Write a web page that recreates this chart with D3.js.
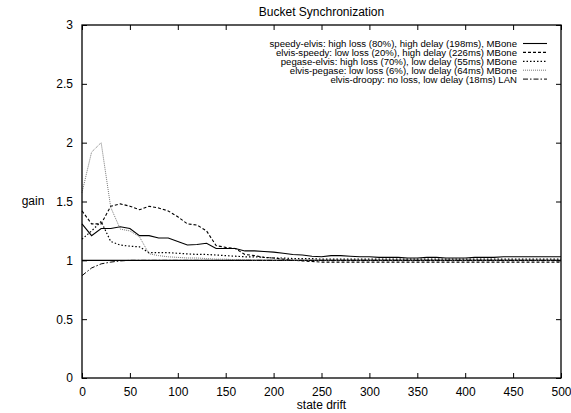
<!DOCTYPE html>
<html><head><meta charset="utf-8">
<script src="https://cdn.jsdelivr.net/npm/d3@7"></script>
<style>body{margin:0;background:#fff}svg{display:block}text{font-family:"Liberation Sans",Arial,sans-serif;fill:#000}</style>
</head><body>
<script>
const drift = d3.range(0, 501, 10);
const speedyElvis = [1.31,1.21,1.27,1.27,1.285,1.27,1.21,1.21,1.19,1.19,1.16,1.13,1.135,1.145,1.10,1.10,1.10,1.08,1.08,1.075,1.07,1.06,1.05,1.045,1.035,1.03,1.04,1.04,1.035,1.03,1.03,1.025,1.025,1.025,1.02,1.02,1.025,1.025,1.02,1.02,1.02,1.025,1.025,1.025,1.03,1.03,1.03,1.03,1.03,1.03,1.03];
const elvisSpeedy = [1.42,1.31,1.31,1.46,1.48,1.46,1.43,1.46,1.445,1.42,1.37,1.31,1.30,1.25,1.125,1.11,1.10,1.05,1.04,1.025,1.02,1.01,1.0,0.995,0.99,0.985,0.985,0.985,0.985,0.985,0.985,0.985,0.985,0.985,0.985,0.985,0.985,0.985,0.985,0.985,0.985,0.985,0.985,0.985,0.985,0.985,0.985,0.985,0.985,0.985,0.985];
const pegaseElvis = [1.18,1.25,1.33,1.16,1.13,1.12,1.115,1.065,1.065,1.065,1.06,1.055,1.05,1.05,1.045,1.04,1.035,1.03,1.03,1.025,1.02,1.02,1.015,1.015,1.015,1.01,1.01,1.01,1.01,1.01,1.01,1.01,1.01,1.01,1.01,1.01,1.01,1.01,1.01,1.01,1.01,1.01,1.01,1.01,1.01,1.01,1.01,1.01,1.01,1.01,1.01];
const elvisPegase = [1.575,1.92,2.0,1.45,1.265,1.25,1.20,1.055,1.04,1.03,1.025,1.02,1.02,1.015,1.01,1.01,1.005,1.005,1.0,1.0,1.0,1.0,1.0,1.0,1.0,1.0,1.0,1.0,1.0,1.0,1.0,1.0,1.0,1.0,1.0,1.0,1.0,1.0,1.0,1.0,1.0,1.0,1.0,1.0,1.0,1.0,1.0,1.0,1.0,1.0,1.0];
const elvisDroopy = [0.87,0.935,0.97,0.985,0.995,1.0,1.0,1.0,1.0,1.0,1.0,1.0,1.0,1.0,1.0,1.0,1.0,1.0,1.0,1.0,1.0,1.0,1.0,1.0,1.0,1.0,1.0,1.0,1.0,1.0,1.0,1.0,1.0,1.0,1.0,1.0,1.0,1.0,1.0,1.0,1.0,1.0,1.0,1.0,1.0,1.0,1.0,1.0,1.0,1.0,1.0];
const seriesNames = ["speedy-elvis: high loss (80%), high delay (198ms), MBone","elvis-speedy: low loss (20%), high delay (226ms) MBone","pegase-elvis: high loss (70%), low delay (55ms) MBone","elvis-pegase: low loss (6%), low delay (64ms) MBone","elvis-droopy: no loss, low delay (18ms) LAN"];
const xTicks = [0,50,100,150,200,250,300,350,400,450,500];
const yTicks = [0,0.5,1,1.5,2,2.5,3];
const yTickLabels = ["0","0.5","1","1.5","2","2.5","3"];

const series = [speedyElvis, elvisSpeedy, pegaseElvis, elvisPegase, elvisDroopy];
const styles = [
  {dash:null, color:"#000", w:1.1},
  {dash:"3,2", color:"#000", w:1.1},
  {dash:"1.5,2", color:"#000", w:1.2},
  {dash:"1,1", color:"#777", w:1},
  {dash:"5,2,1.5,2", color:"#000", w:1}
];

const W=571,H=413, L=82,R=561,T=25,B=378;
const svg=d3.select("body").append("svg").attr("width",W).attr("height",H);
const x=d3.scaleLinear().domain([0,500]).range([L,R]);
const y=d3.scaleLinear().domain([0,3]).range([B,T]);

svg.append("line").attr("x1",L).attr("x2",R).attr("y1",y(1)).attr("y2",y(1)).attr("stroke","#000").attr("stroke-width",1.3);

const line=d3.line().x((d,i)=>x(drift[i])).y(d=>y(d));
series.forEach((s,k)=>{
  svg.append("path").attr("d",line(s)).attr("fill","none").attr("stroke",styles[k].color)
    .attr("stroke-width",styles[k].w).attr("stroke-dasharray",styles[k].dash);
});

const ax=svg.append("g").attr("transform",`translate(0,${B})`).call(d3.axisBottom(x).tickValues(xTicks).tickSizeInner(-5).tickSizeOuter(0).tickPadding(9));
const axT=svg.append("g").attr("transform",`translate(0,${T})`).call(d3.axisTop(x).tickValues(xTicks).tickSizeInner(-5).tickSizeOuter(0).tickFormat(""));
const ay=svg.append("g").attr("transform",`translate(${L},0)`).call(d3.axisLeft(y).tickValues(yTicks).tickSizeInner(-5).tickSizeOuter(0).tickPadding(9).tickFormat((d,i)=>yTickLabels[i]));
const ayR=svg.append("g").attr("transform",`translate(${R},0)`).call(d3.axisRight(y).tickValues(yTicks).tickSizeInner(-5).tickSizeOuter(0).tickFormat(""));
[ax,axT,ay,ayR].forEach(g=>{g.select(".domain").remove();g.selectAll("line").attr("stroke","#000");g.selectAll("text").attr("font-size",12).attr("font-family",null).attr("fill","#000");});
svg.append("rect").attr("x",L).attr("y",T).attr("width",R-L).attr("height",B-T).attr("fill","none").attr("stroke","#000").attr("stroke-width",1.3);

svg.append("text").attr("x",(L+R)/2).attr("y",16).attr("text-anchor","middle").attr("font-size",12).text("Bucket Synchronization");
svg.append("text").attr("x",(L+R)/2).attr("y",409).attr("text-anchor","middle").attr("font-size",12).text("state drift");
svg.append("text").attr("x",33).attr("y",205).attr("text-anchor","middle").attr("font-size",12).text("gain");

seriesNames.forEach((n,k)=>{
  const yy=43.5+k*8.9;
  svg.append("text").attr("x",517).attr("y",yy+3.4).attr("text-anchor","end").attr("font-size",9.6).text(n);
  svg.append("line").attr("x1",523).attr("x2",547).attr("y1",yy).attr("y2",yy).attr("stroke",styles[k].color)
    .attr("stroke-width",styles[k].w).attr("stroke-dasharray",styles[k].dash);
});
</script>
</body></html>
